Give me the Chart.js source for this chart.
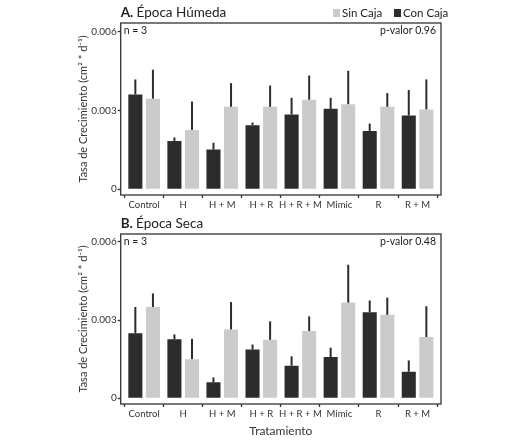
<!DOCTYPE html>
<html>
<head>
<meta charset="utf-8">
<title>Tasa de Crecimiento</title>
<script src="https://cdn.jsdelivr.net/npm/chart.js@4/dist/chart.umd.min.js"></script>
<style>
  html, body { margin: 0; padding: 0; background: #fff; }
  .wrap { position: relative; width: 528px; height: 442px; }
  .panel { position: absolute; left: 0; }
  .panel--a { top: 0; }
  .panel--b { top: 212px; }
</style>
</head>
<body>
<div class="wrap">
  <canvas class="panel panel--a" id="chartA" width="528" height="212"></canvas>
  <canvas class="panel panel--b" id="chartB" width="528" height="230"></canvas>
</div>
<script>
(function() {

    let categories = ['Control', 'H', 'H + M', 'H + R', 'H + R + M', 'Mimic', 'R', 'R + M'];
    let yTicks = [0, 0.003, 0.006];

    // A. Época Húmeda
    let humedaCon = [0.00361, 0.00184, 0.00151, 0.00244, 0.00285, 0.00306, 0.00222, 0.00281];
    let humedaConSE = [0.00057, 0.00013, 0.00026, 0.00010, 0.00063, 0.00042, 0.00028, 0.00097];
    let humedaSin = [0.00345, 0.00226, 0.00314, 0.00314, 0.00341, 0.00324, 0.00314, 0.00304];
    let humedaSinSE = [0.00110, 0.00108, 0.00090, 0.00081, 0.00092, 0.00127, 0.00052, 0.00114];

    // B. Época Seca
    let secaCon = [0.00249, 0.00226, 0.00061, 0.00187, 0.00125, 0.00158, 0.00330, 0.00102];
    let secaConSE = [0.00101, 0.00019, 0.00019, 0.00019, 0.00036, 0.00036, 0.00045, 0.00043];
    let secaSin = [0.00350, 0.00150, 0.00264, 0.00224, 0.00258, 0.00367, 0.00320, 0.00235];
    let secaSinSE = [0.00052, 0.00078, 0.00105, 0.00071, 0.00056, 0.00145, 0.00066, 0.00118];

    let DARK = '#2c2c2c';
    let LIGHT = '#cbcbcb';
    let INK = '#333';
    let FONT = 'Lato, sans-serif';

    /**
     * Draws the frame, error bars, corner notes, title and legend
     */
    let panelPlugin = {
        id: 'panel',
        afterDatasetsDraw: (chart, args, opts) => {
            let { ctx, chartArea: area, scales: { y } } = chart;

            ctx.save();

            // error bars (upper half only)
            chart.data.datasets.forEach((ds, i) => {
                let meta = chart.getDatasetMeta(i);
                meta.data.forEach((bar, j) => {
                    let top = y.getPixelForValue(ds.data[j].y + ds.se[j]);
                    ctx.beginPath();
                    ctx.strokeStyle = DARK;
                    ctx.lineWidth = 2;
                    ctx.moveTo(bar.x, bar.y);
                    ctx.lineTo(bar.x, top);
                    ctx.stroke();
                });
            });

            // frame
            ctx.strokeStyle = INK;
            ctx.lineWidth = 1.3;
            ctx.strokeRect(area.left, area.top, area.right - area.left, area.bottom - area.top);

            // notes
            ctx.fillStyle = '#222';
            ctx.font = '10.5px ' + FONT;
            ctx.textBaseline = 'middle';
            ctx.textAlign = 'left';
            ctx.fillText('n = 3', area.left + 3, area.top + 8);
            ctx.textAlign = 'right';
            ctx.fillText(opts.pval, area.right - 5, area.top + 8);

            // title
            let ty = area.top - 10;
            ctx.textAlign = 'left';
            ctx.font = 'bold 13.5px ' + FONT;
            ctx.fillText(opts.letter, area.left, ty);
            let w = ctx.measureText(opts.letter + ' ').width;
            ctx.font = '13.5px ' + FONT;
            ctx.fillText(opts.title, area.left + w, ty);

            // legend
            if (opts.legend) {
                ctx.font = '11.5px ' + FONT;
                let items = [
                    { label: 'Sin Caja', color: LIGHT, x: 333 },
                    { label: 'Con Caja', color: DARK, x: 394 }
                ];
                items.forEach(item => {
                    ctx.fillStyle = item.color;
                    ctx.fillRect(item.x, ty - 4, 7, 8);
                    ctx.fillStyle = '#222';
                    ctx.fillText(item.label, item.x + 9, ty);
                });
            }

            ctx.restore();
        }
    };

    let toPoints = values => values.map((v, i) => ({ x: i, y: v }));

    /**
     * Builds one panel
     */
    let makeChart = (canvas, p) => {
        return new Chart(canvas, {
            type: 'bar',
            data: {
                datasets: [
                    {
                        label: 'Con Caja',
                        data: toPoints(p.con),
                        se: p.conSE,
                        backgroundColor: DARK
                    },
                    {
                        label: 'Sin Caja',
                        data: toPoints(p.sin),
                        se: p.sinSE,
                        backgroundColor: LIGHT
                    }
                ]
            },
            options: {
                responsive: false,
                animation: false,
                categoryPercentage: 0.9,
                barPercentage: 0.8,
                layout: {
                    padding: { left: 76, right: 87, top: p.padTop, bottom: 0 }
                },
                plugins: {
                    legend: { display: false },
                    tooltip: { enabled: false },
                    panel: p.panel
                },
                scales: {
                    x: {
                        type: 'linear',
                        offset: false,
                        min: -0.6,
                        max: 7.6,
                        afterBuildTicks: scale => {
                            scale.ticks = categories.map((c, i) => ({ value: i }));
                        },
                        afterFit: scale => { scale.height = p.xHeight; },
                        grid: {
                            drawOnChartArea: false,
                            color: INK,
                            tickLength: 3,
                            tickWidth: 1.3
                        },
                        border: { display: false },
                        ticks: {
                            padding: 1,
                            color: '#333',
                            maxRotation: 0,
                            autoSkip: false,
                            font: { family: FONT, size: 9.5 },
                            callback: v => categories[v]
                        },
                        title: {
                            display: p.xTitle,
                            text: 'Tratamiento',
                            color: '#333',
                            padding: { top: 0, bottom: 4 },
                            font: { family: FONT, size: 12 }
                        }
                    },
                    y: {
                        min: -0.00022,
                        max: p.yMax,
                        afterBuildTicks: scale => {
                            scale.ticks = yTicks.map(v => ({ value: v }));
                        },
                        afterFit: scale => { scale.width = 44.7; },
                        grid: {
                            drawOnChartArea: false,
                            color: INK,
                            tickLength: 3,
                            tickWidth: 1.3
                        },
                        border: { display: false },
                        ticks: {
                            padding: 1,
                            color: '#333',
                            font: { family: FONT, size: 10 },
                            callback: v => String(v)
                        },
                        title: {
                            display: true,
                            text: 'Tasa de Crecimiento (cm² * d⁻¹)',
                            color: '#333',
                            padding: { top: 1, bottom: 0 },
                            font: { family: FONT, size: 11 }
                        }
                    }
                }
            },
            plugins: [panelPlugin]
        });
    };

    let init = () => {
        makeChart(document.getElementById('chartA'), {
            con: humedaCon, conSE: humedaConSE,
            sin: humedaSin, sinSE: humedaSinSE,
            padTop: 23, xHeight: 17, xTitle: false, yMax: 0.00633,
            panel: { letter: 'A.', title: 'Época Húmeda', pval: 'p-valor 0.96', legend: true }
        });

        makeChart(document.getElementById('chartB'), {
            con: secaCon, conSE: secaConSE,
            sin: secaSin, sinSE: secaSinSE,
            padTop: 22, xHeight: 38, xTitle: true, yMax: 0.0063,
            panel: { letter: 'B.', title: 'Época Seca', pval: 'p-valor 0.48', legend: false }
        });
    };

    window.addEventListener('DOMContentLoaded', init);

})()
</script>
</body>
</html>
